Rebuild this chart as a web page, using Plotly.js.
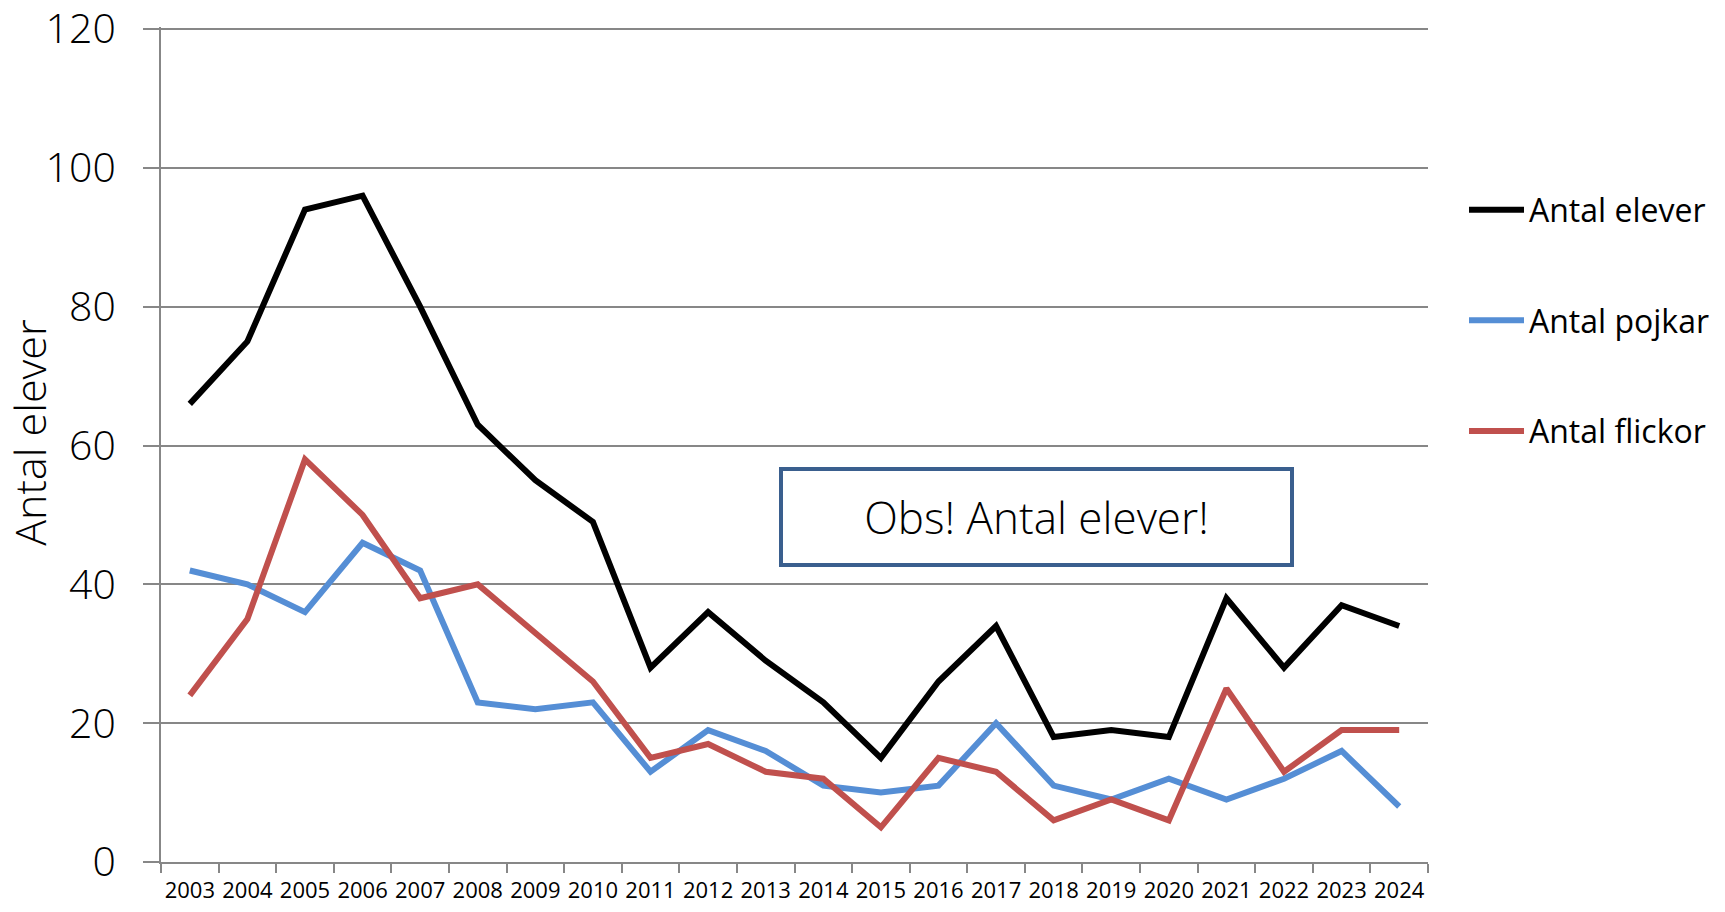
<!DOCTYPE html>
<html>
<head>
<meta charset="utf-8">
<script src="https://cdn.plot.ly/plotly-3.0.1.min.js"></script>
<style>
  html, body { margin: 0; padding: 0; background: #ffffff; }
  #chart { width: 1725px; height: 912px; }
</style>
</head>
<body>
<div id="chart"></div>
<script>
const years = ["2003","2004","2005","2006","2007","2008","2009","2010","2011","2012","2013","2014","2015","2016","2017","2018","2019","2020","2021","2022","2023","2024"];
const antalElever = [66,75,94,96,80,63,55,49,28,36,29,23,15,26,34,18,19,18,38,28,37,34];
const antalPojkar = [42,40,36,46,42,23,22,23,13,19,16,11,10,11,20,11,9,12,9,12,16,8];
const antalFlickor = [24,35,58,50,38,40,33,26,15,17,13,12,5,15,13,6,9,6,25,13,19,19];
const seriesNames = ["Antal elever","Antal pojkar","Antal flickor"];
const seriesColors = ["#000000","#558ED5","#C0504D"];
const yTicks = [0,20,40,60,80,100,120];
const yTitle = "Antal elever";
const noteText = "Obs! Antal elever!";

const FONT = "'Open Sans', 'Noto Sans', sans-serif";
const GRID = "#878787";

const seriesData = [antalElever, antalPojkar, antalFlickor];
const traces = seriesData.map((vals, i) => ({
  type: "scatter",
  mode: "lines",
  x: years,
  y: vals,
  name: seriesNames[i],
  legendgroup: "g" + i,
  line: { color: seriesColors[i], width: 6, shape: "linear" },
  hoverinfo: "x+y+name"
}));

const layout = {
  width: 1725,
  height: 912,
  margin: { l: 161, r: 297, t: 27, b: 50, pad: 0, autoexpand: false },
  paper_bgcolor: "#ffffff",
  plot_bgcolor: "#ffffff",
  font: { family: FONT, color: "#000000" },
  showlegend: true,
  legend: {
    xref: "container", yref: "container",
    x: 0.8487, xanchor: "left",
    y: 0.80, yanchor: "top",
    traceorder: "grouped",
    tracegroupgap: 66,
    font: { family: FONT, size: 32, color: "#000000" },
    bgcolor: "rgba(0,0,0,0)",
    borderwidth: 0,
    itemwidth: 55
  },
  xaxis: {
    type: "category",
    range: [-0.5, years.length - 0.5],
    showgrid: false,
    zeroline: false,
    showline: true,
    linecolor: GRID,
    linewidth: 2,
    ticks: "outside",
    tickson: "boundaries",
    ticklen: 9,
    tickwidth: 2,
    tickcolor: GRID,
    tickangle: 0,
    ticklabelstandoff: 8,
    ticklabeloverflow: "allow",
    tickfont: { family: FONT, size: 22, color: "#000000" },
    fixedrange: true
  },
  yaxis: {
    range: [0, 120.3],
    tickmode: "array",
    tickvals: yTicks,
    ticktext: yTicks.map(String),
    showgrid: true,
    gridcolor: GRID,
    gridwidth: 2,
    zeroline: false,
    showline: true,
    linecolor: GRID,
    linewidth: 2,
    ticks: "outside",
    ticklen: 16,
    tickwidth: 2,
    tickcolor: GRID,
    ticklabelstandoff: 19,
    ticklabeloverflow: "allow",
    tickfont: { family: FONT, size: 41, color: "#000000", weight: 300 },
    fixedrange: true
  },
  annotations: [
    {
      xref: "paper", yref: "paper",
      x: -0.1036, y: 0.515,
      xanchor: "center", yanchor: "middle",
      text: yTitle,
      textangle: -90,
      showarrow: false,
      font: { family: FONT, size: 43, color: "#000000", weight: 300 }
    },
    {
      xref: "paper", yref: "paper",
      x: 0.691, y: 0.413,
      xanchor: "center", yanchor: "middle",
      text: noteText,
      showarrow: false,
      width: 507,
      height: 92,
      align: "center",
      valign: "middle",
      bgcolor: "#ffffff",
      bordercolor: "#3A5F8E",
      borderwidth: 4,
      borderpad: 0,
      font: { family: FONT, size: 44, color: "#000000", weight: 300 }
    }
  ]
};

Plotly.newPlot("chart", traces, layout, { displayModeBar: false, staticPlot: true });
</script>
</body>
</html>
